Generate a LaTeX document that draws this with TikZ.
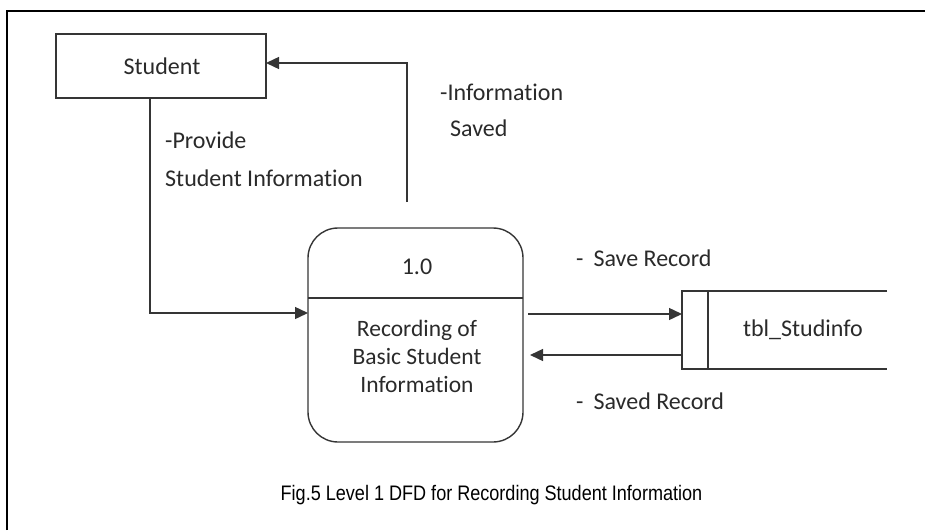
\documentclass[tikz,border=0pt]{standalone}
\usepackage{fontspec}
\setmainfont[Ligatures=NoCommon]{Carlito}
\newfontfamily\capfont[FakeStretch=0.86]{Liberation Sans}
\usetikzlibrary{arrows.meta}
\definecolor{ink}{HTML}{353535}
\definecolor{txt}{HTML}{2A2A2A}
\tikzset{
  lbl/.style={anchor=west, inner sep=0pt, text=txt, font=\fontsize{24}{28}\selectfont},
  entity/.style={draw=ink, line width=1.4pt, minimum width=210pt, minimum height=64pt,
    inner sep=0pt, outer sep=0pt, text=txt, font=\fontsize{24}{28}\selectfont},
  process/.style={draw=ink, line width=1.4pt, rounded corners=30pt, minimum width=215pt,
    minimum height=214pt, inner sep=0pt, outer sep=0pt},
  storebox/.style={minimum width=205pt, minimum height=78pt, inner sep=0pt, outer sep=0pt},
  flow/.style={draw=ink, line width=1.4pt, -{Triangle[length=13pt,width=12pt]}},
}
\begin{document}
\begin{tikzpicture}[x=1pt,y=-1pt]
  \useasboundingbox (0,0) rectangle (925,530);
  % open frame
  \draw[line width=2.4pt, black] (7,530) -- (7,11) -- (925,11);

  % external entity
  \node[entity] (student) at (161,66) {\hspace*{2pt}Student};

  % process
  \node[process] (proc) at (415.5,335) {};
  \draw[ink, line width=1.4pt] (proc.west |- 0,298) -- (proc.east |- 0,298);
  \node[text=txt, inner sep=0pt, font=\fontsize{24}{28}\selectfont] (pnum) at (417,267) {1.0};
  \node[text=txt, inner sep=0pt, align=center, font=\fontsize{23.5}{28}\selectfont]
    (pname) at (417,356) {Recording of\\Basic Student\\Information};

  % data store
  \node[storebox] (store) at (784.5,330) {};
  \draw[ink, line width=1.4pt] (store.north east) -- (store.north west) -- (store.south west) -- (store.south east);
  \draw[ink, line width=1.4pt] ([xshift=26pt]store.north west) -- ([xshift=26pt]store.south west);
  \node[text=txt, inner sep=0pt, font=\fontsize{24}{28}\selectfont] (sname) at (803,330) {tbl\_Studinfo};

  % data flows
  \draw[flow] ([xshift=-11pt]student.south) |- ([yshift=22pt]proc.west);
  \coordinate (pout) at (407,202);
  \draw[flow] (pout) |- ([yshift=3pt]student.east);
  \draw[flow, shorten <=5pt] ([yshift=21pt]proc.east) -- ([yshift=16pt]store.west);
  \draw[flow, shorten >=7pt] ([yshift=-25pt]store.west) -- ([yshift=-20pt]proc.east);

  % flow labels
  \node[lbl] (lprov1) at (165,140) {-Provide};
  \node[lbl] (lprov2) at (165,178) {Student Information};
  \node[lbl] (lsav1) at (440,92) {-Information};
  \node[lbl] (lsav2) at (450,128) {Saved};
  \node[lbl] (lrec1) at (576,258) {-\hspace{10pt}Save Record};
  \node[lbl] (lrec2) at (576,401) {-\hspace{10pt}Saved Record};

  % caption
  \node[inner sep=0pt, text=black, font=\capfont\fontsize{21}{24}\selectfont] (cap) at (491.5,495)
    {Fig.5 Level 1 DFD for Recording Student Information};
\end{tikzpicture}
\end{document}
